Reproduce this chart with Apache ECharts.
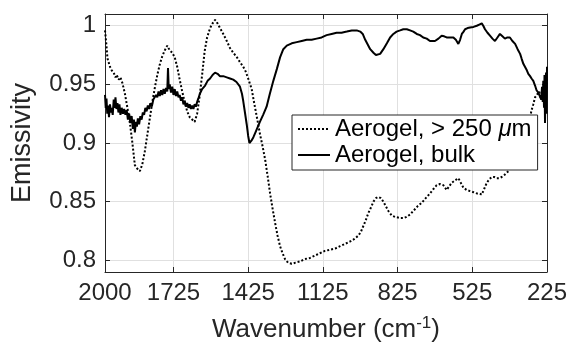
<!DOCTYPE html>
<html>
<head>
<meta charset="utf-8">
<script src="https://cdn.jsdelivr.net/npm/echarts@6/dist/echarts.min.js"></script>
<style>
html,body{margin:0;padding:0;background:#fff;}
#chart{width:570px;height:343px;}
</style>
</head>
<body>
<div id="chart"></div>
<script>
// Tick labels
const xTicks = [2000, 1725, 1425, 1125, 825, 525, 225];
const yTicks = [0.8, 0.85, 0.9, 0.95, 1];
const seriesNames = ['Aerogel, > 250 μm', 'Aerogel, bulk'];

// Aerogel, > 250 um (dotted)
const fineX = [2000,1995,1990,1980,1973,1965,1958,1953,1945,1938,1930,1920,1910,1900,1890,1880,1870,1860,1850,1840,1830,1820,1810,1800,1790,1780,1770,1760,1750,1740,1730,1720,1710,1700,1690,1680,1670,1660,1650,1640,1630,1620,1610,1600,1590,1578,1568,1558,1548,1538,1525,1511,1498,1485,1470,1458,1445,1435,1425,1411,1400,1390,1378,1367,1357,1347,1337,1327,1317,1307,1297,1287,1277,1265,1250,1235,1217,1197,1177,1157,1137,1117,1096,1076,1056,1036,1016,1000,983,973,963,953,943,932,922,912,902,892,882,872,862,848,835,815,800,789,775,762,745,728,712,695,680,668,655,641,628,618,608,595,581,571,561,548,534,520,507,497,487,477,467,457,447,437,427,417,407,395,380,365,350,335,320,305,293,287,280,273,265,258,250,245,240,235,230,225];
const fineY = [0.996,0.985,0.972,0.965,0.962,0.960,0.956,0.958,0.954,0.956,0.951,0.942,0.930,0.917,0.900,0.881,0.878,0.876,0.882,0.893,0.907,0.921,0.935,0.947,0.958,0.967,0.974,0.979,0.983,0.979,0.977,0.973,0.965,0.954,0.944,0.935,0.927,0.922,0.920,0.918,0.925,0.940,0.958,0.978,0.990,0.998,1.002,1.005,1.002,0.998,0.993,0.987,0.981,0.977,0.973,0.969,0.965,0.961,0.955,0.946,0.933,0.922,0.908,0.897,0.886,0.872,0.857,0.844,0.832,0.821,0.812,0.806,0.801,0.798,0.797,0.798,0.799,0.801,0.802,0.804,0.806,0.808,0.809,0.810,0.812,0.814,0.816,0.818,0.821,0.824,0.829,0.834,0.840,0.845,0.850,0.853,0.854,0.853,0.850,0.846,0.842,0.838,0.837,0.836,0.836,0.837,0.839,0.842,0.846,0.849,0.853,0.857,0.861,0.864,0.865,0.864,0.860,0.863,0.866,0.868,0.870,0.866,0.862,0.860,0.859,0.858,0.857,0.857,0.856,0.861,0.866,0.869,0.871,0.871,0.870,0.870,0.871,0.873,0.876,0.882,0.890,0.898,0.906,0.915,0.922,0.928,0.933,0.939,0.941,0.944,0.938,0.946,0.936,0.950,0.940,0.955];

// Aerogel, bulk (solid)
const bulkX = [2000,1997,1994,1991,1987,1984,1980,1976,1973,1969,1965,1961,1958,1954,1950,1946,1942,1938,1933,1928,1923,1918,1913,1908,1903,1898,1893,1888,1884,1880,1876,1872,1868,1863,1858,1853,1848,1843,1838,1833,1828,1823,1818,1812,1806,1800,1795,1790,1785,1780,1775,1770,1765,1760,1755,1750,1747,1744,1740,1735,1730,1725,1720,1715,1710,1705,1700,1695,1690,1685,1680,1675,1670,1665,1660,1655,1650,1645,1640,1635,1630,1625,1619,1610,1598,1588,1578,1568,1558,1548,1538,1525,1511,1498,1485,1472,1458,1450,1445,1438,1431,1425,1420,1412,1404,1394,1384,1378,1365,1351,1338,1324,1310,1297,1284,1270,1250,1230,1210,1190,1170,1150,1130,1110,1090,1070,1050,1029,1009,989,975,965,955,945,935,922,912,905,895,882,868,855,842,829,815,802,788,775,762,748,735,722,708,695,685,675,661,648,638,628,615,601,591,581,574,567,560,554,544,534,520,507,497,487,481,474,464,454,444,434,424,414,404,394,384,374,364,353,343,333,327,320,313,306,300,293,287,280,273,267,260,253,248,245,242,240,237,235,233,231,229,227,225];
const bulkY = [0.941,0.930,0.938,0.925,0.932,0.922,0.933,0.926,0.930,0.924,0.937,0.930,0.939,0.929,0.934,0.926,0.933,0.924,0.930,0.925,0.929,0.924,0.928,0.920,0.925,0.917,0.923,0.912,0.920,0.909,0.918,0.914,0.921,0.916,0.923,0.920,0.926,0.924,0.930,0.927,0.932,0.929,0.934,0.931,0.937,0.936,0.941,0.939,0.944,0.940,0.945,0.941,0.946,0.942,0.947,0.944,0.964,0.946,0.950,0.943,0.948,0.941,0.946,0.940,0.944,0.939,0.941,0.936,0.939,0.933,0.936,0.931,0.934,0.930,0.933,0.929,0.932,0.929,0.933,0.931,0.935,0.938,0.942,0.946,0.949,0.953,0.955,0.958,0.960,0.959,0.957,0.957,0.956,0.955,0.954,0.952,0.948,0.942,0.936,0.926,0.916,0.906,0.900,0.902,0.905,0.910,0.915,0.918,0.924,0.931,0.942,0.953,0.963,0.973,0.980,0.983,0.985,0.986,0.987,0.988,0.988,0.989,0.990,0.992,0.993,0.994,0.994,0.995,0.996,0.996,0.995,0.993,0.988,0.984,0.980,0.977,0.975,0.975,0.976,0.980,0.985,0.990,0.993,0.995,0.996,0.997,0.997,0.996,0.995,0.993,0.992,0.990,0.989,0.987,0.987,0.987,0.989,0.9915,0.991,0.990,0.990,0.990,0.988,0.9845,0.988,0.993,0.995,0.997,0.998,0.9985,0.999,1.000,1.001,1.002,1.000,0.997,0.994,0.9915,0.989,0.987,0.990,0.993,0.991,0.989,0.990,0.990,0.987,0.9845,0.980,0.976,0.972,0.9675,0.966,0.962,0.959,0.957,0.955,0.953,0.949,0.945,0.943,0.942,0.937,0.948,0.935,0.953,0.930,0.958,0.917,0.945,0.960,0.925,0.965];

const zip = (xs, ys) => xs.map((x, i) => [x, ys[i]]);

const AX = '#262626';
const FONT = 'Liberation Sans';
const chart = echarts.init(document.getElementById('chart'), null, {renderer: 'canvas'});

const mirrorX = {
  type: 'value', inverse: true, min: 225, max: 2000,
  axisLine: {show: true, lineStyle: {color: AX, width: 1}},
  axisTick: {show: true, inside: true, length: 5, customValues: xTicks, lineStyle: {color: AX}},
  axisLabel: {show: false},
  splitLine: {show: false}
};
const mirrorY = {
  type: 'value', min: 0.79, max: 1.01,
  axisLine: {show: true, lineStyle: {color: AX, width: 1}},
  axisTick: {show: true, inside: true, length: 5, customValues: yTicks, lineStyle: {color: AX}},
  axisLabel: {show: false},
  splitLine: {show: false}
};

chart.setOption({
  animation: false,
  backgroundColor: '#fff',
  grid: {left: 105, right: 23, top: 14, bottom: 71, containLabel: false, outerBoundsMode: 'none'},
  xAxis: [
    Object.assign({}, mirrorX, {
      position: 'bottom',
      splitLine: {show: true, lineStyle: {color: '#e0e0e0', width: 1}},
      axisLabel: {show: true, customValues: xTicks, color: AX, fontFamily: FONT, fontSize: 24, margin: 9,
        formatter: function (v) { return String(v); }},
      name: '{t|Wavenumber (cm}{s|-1}{t|)}',
      nameLocation: 'middle',
      nameGap: 43,
      nameTextStyle: {
        rich: {
          t: {fontFamily: FONT, fontSize: 26, color: AX, lineHeight: 30},
          s: {fontFamily: FONT, fontSize: 17, color: AX, verticalAlign: 'top', lineHeight: 17}
        }
      }
    }),
    Object.assign({}, mirrorX, {position: 'top'})
  ],
  yAxis: [
    Object.assign({}, mirrorY, {
      position: 'left',
      splitLine: {show: true, lineStyle: {color: '#e0e0e0', width: 1}},
      axisLabel: {show: true, customValues: yTicks, color: AX, fontFamily: FONT, fontSize: 24, margin: 9,
        formatter: function (v) { return String(v); }},
      name: 'Emissivity',
      nameLocation: 'middle',
      nameGap: 69,
      nameTextStyle: {fontFamily: FONT, fontSize: 27, color: AX}
    }),
    Object.assign({}, mirrorY, {position: 'right'})
  ],
  legend: {
    left: 292, top: 115,
    orient: 'vertical',
    itemWidth: 32, itemHeight: 14, itemGap: 2,
    padding: [2, 6, 3, 5],
    backgroundColor: '#fff',
    borderColor: AX, borderWidth: 1, borderRadius: 0,
    itemStyle: {opacity: 0},
    data: seriesNames,
    formatter: function (name) {
      if (name.indexOf('μ') >= 0) {
        return '{n|Aerogel, > 250 }{i|μ}{n|m}';
      }
      return '{n|' + name + '}';
    },
    textStyle: {
      color: '#000',
      rich: {
        n: {fontFamily: FONT, fontSize: 24, color: '#000'},
        i: {fontFamily: FONT, fontSize: 24, fontStyle: 'italic', color: '#000'}
      }
    }
  },
  series: [
    {
      name: seriesNames[0], type: 'line', xAxisIndex: 0, yAxisIndex: 0,
      data: zip(fineX, fineY), symbol: 'none', showSymbol: false,
      lineStyle: {color: '#000', width: 2, type: [2, 2]},
      itemStyle: {color: '#000'}
    },
    {
      name: seriesNames[1], type: 'line', xAxisIndex: 0, yAxisIndex: 0,
      data: zip(bulkX, bulkY), symbol: 'none', showSymbol: false,
      lineStyle: {color: '#000', width: 2, type: 'solid'},
      itemStyle: {color: '#000'}
    }
  ]
});
</script>
</body>
</html>
